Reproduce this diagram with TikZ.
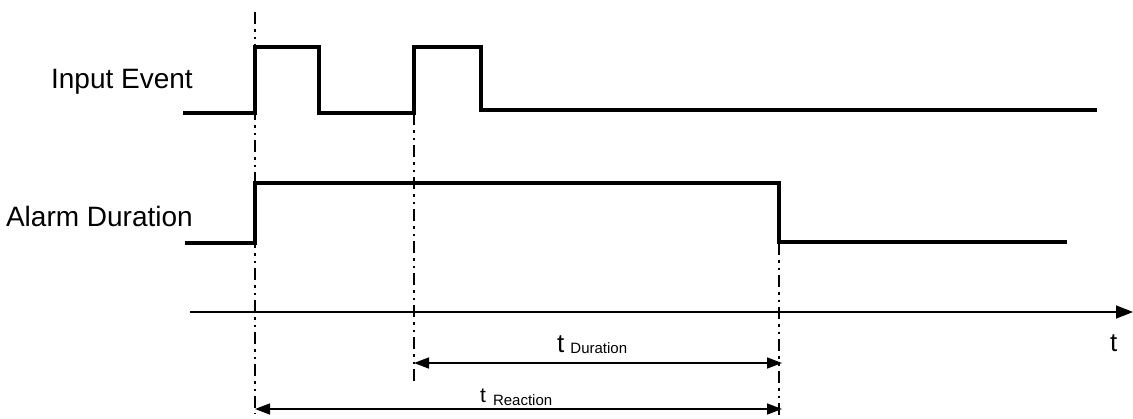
\documentclass[tikz,border=0pt]{standalone}
\usepackage{fontspec}
\setmainfont{Liberation Sans}
\usetikzlibrary{arrows.meta}
\begin{document}
\begin{tikzpicture}[x=1pt,y=-1pt,
  signal/.style={line width=4.8pt, line join=miter, line cap=butt},
  guide/.style={line width=2.4pt, dash pattern=on 12pt off 5pt on 2.5pt off 5pt on 2.5pt off 5pt},
  axis/.style={line width=1.6pt, -{Triangle[length=17pt,width=13pt]}},
  dim/.style={line width=1.5pt, {Triangle[length=15pt,width=11pt]}-{Triangle[length=15pt,width=11pt]}},
  lbl/.style={font=\fontsize{28}{30}\selectfont, anchor=base east, inner sep=0pt},
  tl/.style={inner sep=0pt, anchor=base west}
]
\useasboundingbox (0,0) rectangle (1133,418);
% guides
\coordinate (g1t) at (255,12);  \coordinate (g1b) at (255,414);
\coordinate (g2t) at (414,113); \coordinate (g2b) at (414,383);
\coordinate (g3t) at (779,243); \coordinate (g3b) at (779,418);
\draw[guide] (g1t) -- (g1b);
\draw[guide] (g2t) -- (g2b);
\draw[guide] (g3t) -- (g3b);
% signals
\coordinate (in0) at (183,113);
\coordinate (in1) at (1097,110);
\draw[signal] (in0) -- (255,113) -- (255,47) -- (319,47) -- (319,113) -- (414,113) -- (414,47) -- (481,47) -- (481,110) -- (in1);
\coordinate (al0) at (185,243);
\coordinate (al1) at (1067,242);
\draw[signal] (al0) -- (255,243) -- (255,183) -- (779,183) -- (779,242) -- (al1);
% axis
\coordinate (ax0) at (190,312);
\coordinate (ax1) at (1133,312);
\draw[axis] (ax0) -- (ax1);
\node[tl, font=\fontsize{26}{28}\selectfont] (tlab) at (1110,351) {t};
% labels
\node[lbl] (inlab) at (193,88) {Input Event};
\node[lbl] (allab) at (193,226) {Alarm Duration};
% dimensions
\coordinate (d1a) at (414,363); \coordinate (d1b) at (782,363);
\draw[dim] (d1a) -- (d1b);
\node[tl] (tdur) at (557,352) {\fontsize{26}{28}\selectfont t\hspace{6pt}\fontsize{15}{16}\selectfont\raisebox{-1pt}{Duration}};
\coordinate (d2a) at (255,409); \coordinate (d2b) at (782,409);
\draw[dim] (d2a) -- (d2b);
\node[tl] (treac) at (480,402) {\fontsize{21}{24}\selectfont t\hspace{7pt}\fontsize{15}{16}\selectfont\raisebox{-3pt}{Reaction}};
\end{tikzpicture}
\end{document}
